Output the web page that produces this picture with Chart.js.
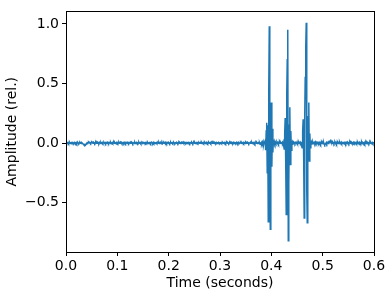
<!DOCTYPE html>
<html>
<head>
<meta charset="utf-8">
<script src="https://cdn.jsdelivr.net/npm/chart.js@4.4.0/dist/chart.umd.min.js"></script>
<style>
  html, body { margin: 0; padding: 0; background: #fff; }
  #wrap { width: 391px; height: 298px; }
</style>
</head>
<body>
<div id="wrap"><canvas id="chart"></canvas></div>
<script>
// recording sampled at 1 kHz, amplitude relative to peak
const sampleRate = 1000;
const xTicks = [0.0, 0.1, 0.2, 0.3, 0.4, 0.5, 0.6];
const yTicks = [-0.5, 0.0, 0.5, 1.0];
const amplitude = [
  0.002, -0.003, 0.004, 0.001, 0.005, -0.004, 0.002, 0.004, -0.005, 0.001, 0.004, -0.002, -0.005, 0.003, 0.000, -0.003, 0.005, -0.001, 0.002, -0.004,
  0.003, -0.006, 0.001, 0.004, -0.002, -0.005, 0.002, 0.004, -0.003, 0.000, -0.004, 0.002, -0.002, -0.007, -0.010, -0.016, -0.020, -0.014, -0.017, -0.009,
  -0.004, 0.002, -0.001, 0.004, 0.006, 0.000, 0.005, 0.002, -0.003, 0.004, 0.006, 0.000, 0.003, -0.002, 0.005, 0.001, -0.004, 0.003, 0.007, -0.001,
  0.004, -0.003, 0.005, 0.001, -0.004, 0.006, 0.002, -0.002, 0.004, -0.005, 0.001, 0.005, -0.003, 0.003, 0.006, -0.001, 0.002, -0.005, 0.004, 0.000,
  -0.002, 0.005, 0.001, -0.004, 0.006, 0.003, -0.001, 0.004, -0.006, 0.002, 0.005, -0.003, 0.001, 0.007, -0.002, 0.003, -0.005, 0.002, 0.006, -0.001,
  0.004, -0.003, 0.002, 0.006, -0.002, 0.004, 0.009, 0.001, -0.003, 0.005, 0.002, -0.005, 0.003, 0.007, -0.001, 0.003, -0.004, 0.005, 0.001, -0.002,
  0.004, 0.001, -0.004, 0.005, 0.002, -0.003, 0.004, -0.001, 0.006, 0.002, -0.005, 0.003, 0.000, -0.002, 0.005, -0.004, 0.003, 0.006, -0.001, 0.002,
  -0.003, 0.004, 0.007, -0.002, 0.003, 0.005, -0.004, 0.001, 0.004, -0.002, 0.006, 0.001, -0.005, 0.003, 0.002, -0.003, 0.005, -0.001, 0.002, 0.004,
  -0.004, 0.002, 0.005, -0.001, 0.003, -0.005, 0.002, 0.004, 0.000, -0.003, 0.006, -0.002, 0.004, 0.001, -0.004, 0.003, 0.005, -0.002, 0.001, 0.004,
  -0.001, 0.005, -0.004, 0.002, 0.007, 0.001, -0.003, 0.004, -0.005, 0.002, 0.006, -0.001, 0.003, 0.008, -0.002, 0.003, -0.004, 0.005, 0.001, -0.002,
  0.004, 0.000, -0.005, 0.003, 0.006, -0.002, 0.001, 0.004, -0.003, 0.002, 0.005, -0.001, -0.004, 0.003, 0.001, -0.003, 0.005, 0.002, -0.004, 0.003,
  0.006, -0.001, 0.002, -0.004, 0.004, 0.007, -0.002, 0.003, 0.009, 0.000, -0.003, 0.005, 0.002, -0.002, 0.005, 0.001, -0.005, 0.003, 0.006, -0.001,
  0.002, -0.004, 0.004, 0.001, -0.003, 0.006, 0.000, -0.005, 0.003, 0.005, -0.002, 0.004, -0.004, 0.002, 0.005, -0.001, 0.003, -0.003, 0.001, 0.004,
  -0.002, 0.003, 0.006, -0.001, 0.004, -0.005, 0.002, 0.005, -0.003, 0.001, 0.004, -0.004, 0.002, 0.007, 0.000, 0.003, -0.004, 0.001, 0.005, -0.002,
  0.003, 0.006, -0.003, 0.001, 0.004, -0.002, 0.005, -0.001, 0.002, -0.005, 0.004, 0.001, -0.003, 0.005, 0.002, -0.004, 0.003, 0.006, -0.001, 0.002,
  -0.004, 0.003, 0.005, -0.002, 0.001, 0.004, -0.003, 0.002, 0.006, -0.001, 0.003, -0.005, 0.001, 0.005, -0.002, 0.004, 0.000, -0.004, 0.003, 0.005,
  -0.001, 0.002, -0.004, 0.004, 0.001, -0.003, 0.006, 0.002, -0.005, 0.003, 0.001, -0.002, 0.005, -0.001, 0.003, -0.004, 0.005, 0.000, -0.003, 0.002,
  0.004, -0.002, 0.003, -0.005, 0.001, 0.005, -0.003, 0.004, 0.001, -0.004, 0.006, -0.001, 0.002, -0.003, 0.004, 0.000, -0.005, 0.003, 0.002, -0.002,
  0.004, -0.001, 0.005, -0.004, 0.002, 0.004, -0.002, 0.003, -0.006, 0.001, 0.005, -0.002, 0.003, -0.004, 0.001, 0.004, -0.003, 0.002, -0.010, -0.002,
  0.003, -0.006, 0.008, -0.003, 0.012, -0.015, 0.005, 0.010, 0.02, -0.06, 0.10, 0.17, -0.25, 0.15, -0.66, 0.45, 0.98, -0.30, -0.725, 0.25,
  0.34, -0.20, 0.12, -0.08, 0.03, -0.02, 0.010, -0.006, 0.007, -0.003, 0.004, 0.008, -0.002, 0.005, -0.007, 0.003, 0.009, -0.001, 0.005, -0.004,
  0.002, 0.006, -0.003, 0.010, 0.01, -0.05, 0.08, 0.21, -0.15, -0.60, 0.40, 0.70, 0.95, -0.82, -0.35, 0.15, 0.30, -0.18, 0.10, -0.06,
  0.02, -0.010, 0.006, -0.003, 0.007, 0.002, -0.005, 0.006, 0.003, -0.002, 0.008, -0.004, 0.002, 0.006, -0.005, 0.004, 0.009, -0.003, 0.005, 0.01,
  -0.04, 0.10, 0.20, -0.12, -0.63, 0.20, 0.55, 0.80, 1.01, -0.40, -0.67, 0.10, 0.22, 0.34, -0.15, 0.08, -0.04, 0.02, -0.008, 0.005,
  -0.004, 0.007, -0.006, 0.002, 0.006, -0.004, 0.008, -0.002, 0.004, -0.007, 0.005, 0.001, -0.005, 0.006, -0.002, 0.004, -0.008, 0.003, 0.006, -0.004,
  0.002, -0.006, 0.004, -0.010, -0.016, -0.009, -0.003, 0.004, -0.005, 0.006, 0.002, -0.004, 0.008, 0.004, 0.014, 0.020, 0.008, -0.002, 0.005, -0.004,
  0.007, 0.001, -0.006, 0.004, 0.008, -0.002, 0.005, -0.007, 0.002, 0.006, -0.004, 0.003, -0.001, 0.006, -0.006, 0.002, 0.008, -0.003, 0.004, 0.000,
  -0.005, 0.004, 0.006, -0.002, 0.002, -0.006, 0.006, 0.001, -0.004, 0.007, 0.003, -0.005, 0.004, 0.008, -0.002, 0.002, -0.006, 0.005, 0.000, -0.003,
  0.006, -0.002, 0.004, -0.007, 0.002, 0.006, -0.004, 0.001, 0.005, -0.006, 0.003, 0.008, -0.002, 0.004, -0.004, 0.002, 0.006, -0.006, 0.004, 0.000,
  -0.003, 0.005, -0.006, 0.002, 0.006, -0.004, 0.002, -0.007, 0.004, 0.001, -0.005, 0.004, 0.007, -0.002, 0.003, -0.006, 0.002, 0.005, -0.004, 0.002,
  -0.002
];

const points = amplitude.map((v, i) => ({ x: i / sampleRate, y: v }));

function fmtTick(v) {
  const s = Math.abs(v).toFixed(1);
  return v < 0 ? '\u2212' + s : s;
}

// matplotlib style box around the plot area
const frame = {
  id: 'frame',
  afterDraw(chart) {
    const a = chart.chartArea;
    const ctx = chart.ctx;
    ctx.save();
    ctx.strokeStyle = '#000';
    ctx.lineWidth = 1;
    ctx.strokeRect(Math.round(a.left) + 0.5, Math.round(a.top) + 0.5,
      Math.round(a.right - a.left), Math.round(a.bottom - a.top));
    ctx.restore();
  }
};

Chart.defaults.font.family = 'DejaVu Sans';
Chart.defaults.font.size = 14;
Chart.defaults.color = '#000';

new Chart(document.getElementById('chart').getContext('2d'), {
  type: 'line',
  data: {
    datasets: [{
      data: points,
      borderColor: '#1f77b4',
      borderWidth: 1.5,
      pointRadius: 0,
      tension: 0,
      fill: false
    }]
  },
  options: {
    responsive: true,
    maintainAspectRatio: false,
    animation: false,
    events: [],
    layout: { padding: { left: 0, right: 17, top: 7, bottom: 0 } },
    plugins: {
      legend: { display: false },
      tooltip: { enabled: false }
    },
    scales: {
      x: {
        type: 'linear',
        min: 0,
        max: 0.6,
        afterBuildTicks: scale => { scale.ticks = xTicks.map(v => ({ value: v })); },
        afterFit: scale => { scale.height = 46; },
        ticks: { callback: v => fmtTick(v), maxRotation: 0, padding: 2 },
        grid: { display: true, drawOnChartArea: false, drawTicks: true, tickLength: 4, color: '#000' },
        border: { display: false },
        title: { display: true, text: 'Time (seconds)', padding: { top: 4, bottom: 6 } }
      },
      y: {
        min: -0.915,
        max: 1.105,
        afterBuildTicks: scale => { scale.ticks = yTicks.map(v => ({ value: v })); },
        afterFit: scale => { scale.width = 66; },
        ticks: { callback: v => fmtTick(v), padding: 3 },
        grid: { display: true, drawOnChartArea: false, drawTicks: true, tickLength: 4, color: '#000' },
        border: { display: false },
        title: { display: true, text: 'Amplitude (rel.)', padding: { top: 4, bottom: 4 } }
      }
    }
  },
  plugins: [frame]
});
</script>
</body>
</html>
